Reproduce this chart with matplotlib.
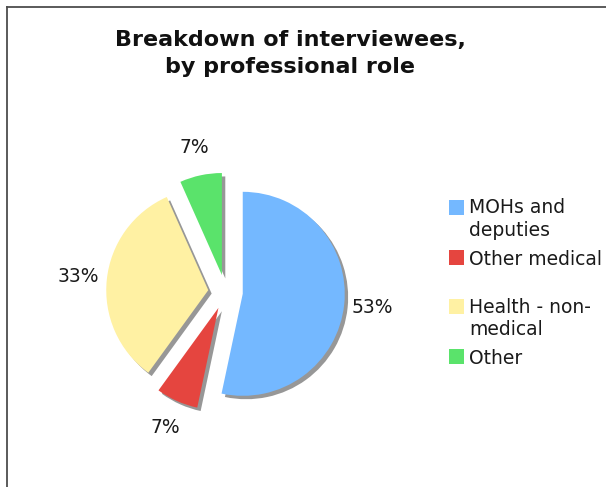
import matplotlib
matplotlib.use("Agg")
import matplotlib.pyplot as plt
from matplotlib.patches import Rectangle
from matplotlib.lines import Line2D

# data: 15 interviewees
roles = ["MOHs and\ndeputies", "Other medical", "Health - non-\nmedical", "Other"]
counts = [8, 1, 5, 1]
colors = ["#74B8FF", "#E5453F", "#FFF1A3", "#5AE36B"]
title = "Breakdown of interviewees,\nby professional role"

W, H = 606, 487
fig = plt.figure(figsize=(W / 100, H / 100), dpi=100)

# frame lines (top and left) of the original chart area
fig.add_artist(Line2D([7 / W, 1], [1 - 6.5 / H, 1 - 6.5 / H], transform=fig.transFigure,
                      color="#4d4d4d", lw=1.3))
fig.add_artist(Line2D([7 / W, 7 / W], [0, 1 - 6.5 / H], transform=fig.transFigure,
                      color="#4d4d4d", lw=1.3))

# pie axes: 1 data unit = 102 px, centred at (225.5, 292) px from top-left
R = 102
cx, cy = 225.5, 292
ax = fig.add_axes([(cx - 1.5 * R) / W, (H - cy - 1.5 * R) / H, 3 * R / W, 3 * R / H])
wedges, texts, autotexts = ax.pie(
    counts, colors=colors, startangle=90, counterclock=False,
    explode=[0.17] * len(counts), autopct="%1.0f%%", pctdistance=1.28,
    wedgeprops=dict(linewidth=0),
    shadow=dict(ox=0.024, oy=-0.024, facecolor="#979797", edgecolor="#979797", alpha=1),
    textprops=dict(fontsize=13.5, color="#1a1a1a"))
ax.set_xlim(-1.5, 1.5)
ax.set_ylim(-1.5, 1.5)
ax.set_aspect("equal")
ax.axis("off")

# multi-line text with va="baseline" is anchored on its last line
fig.text(290 / W, 1 - 73 / H, title, ha="center", va="baseline", multialignment="center",
         fontsize=16, fontweight="bold", color="#111111", linespacing=1.42)

# legend, square aligned with first text line
for i, (lab, col) in enumerate(zip(roles, colors)):
    top = 200 + 49.7 * i
    fig.add_artist(Rectangle((449 / W, 1 - (top + 15) / H), 15 / W, 15 / H,
                             transform=fig.transFigure, facecolor=col, edgecolor="none"))
    last = top + 15 + 21 * lab.count("\n")
    fig.text(469 / W, 1 - last / H, lab, ha="left", va="baseline",
             fontsize=13.5, color="#1a1a1a", linespacing=1.24)

fig.savefig("out.png", dpi=100)
